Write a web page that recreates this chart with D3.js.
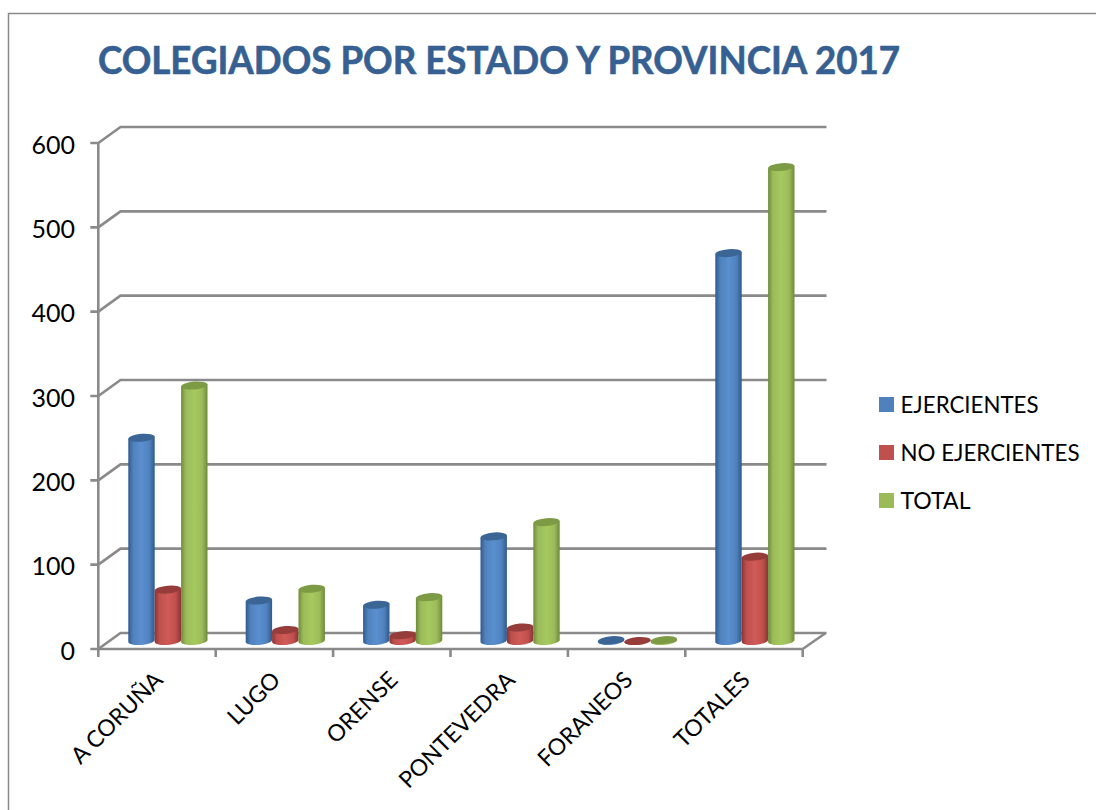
<!DOCTYPE html>
<html><head><meta charset="utf-8">
<style>html,body{margin:0;padding:0;background:#fff;overflow:hidden}svg{display:block}text{font-family:Lato,"Open Sans",sans-serif}</style>
<script src="https://cdn.jsdelivr.net/npm/d3@7"></script></head>
<body><svg id="c" width="1096" height="810"></svg>
<script>
const categories = ["A CORUÑA","LUGO","ORENSE","PONTEVEDRA","FORANEOS","TOTALES"];
const seriesNames = ["EJERCIENTES","NO EJERCIENTES","TOTAL"];
const ejercientes = [241,48,43,124,1,460];
const noEjercientes = [61,13,7,16,0,100];
const total = [303,62,52,141,1,562];
const yTicks = [0,100,200,300,400,500,600];
const titleText = "COLEGIADOS POR ESTADO Y PROVINCIA 2017";

const seriesValues = [ejercientes,noEjercientes,total];
const palette = [
  {main:"#4f81bd",light:"#5a8fd0",dark:"#2f5a8c",top:"#3a6595"},
  {main:"#c0504d",light:"#d05a57",dark:"#8a3432",top:"#963d3b"},
  {main:"#9bbb59",light:"#a6c95f",dark:"#6f8a3a",top:"#7d9a45"}
];
const axisColor="#8a8a8a", depthX=23, depthY=16;
const svg=d3.select("#c");
const x=d3.scaleBand().domain(categories).range([98.3,802.7]);
const y=d3.scaleLinear().domain([0,600]).range([649,143]);
const inner=d3.scaleBand().domain(d3.range(3)).range([30,109.2]);

const defs=svg.append("defs");
palette.forEach((p,i)=>{
  const g=defs.append("linearGradient").attr("id","g"+i);
  [[0,p.dark],[.18,p.main],[.5,p.light],[.8,p.main],[1,p.dark]].forEach(s=>g.append("stop").attr("offset",s[0]).attr("stop-color",s[1]));
});

// frame
svg.append("path").attr("d","M8.5,812V13.5H1098").attr("fill","none").attr("stroke",axisColor).attr("stroke-width",1.5);

// title
svg.append("text").attr("x",98).attr("y",74).attr("font-size",38).attr("font-weight",700).attr("fill","#376092").attr("stroke","#376092").attr("stroke-width",0.6).attr("textLength",802).attr("lengthAdjust","spacingAndGlyphs").text(titleText);

// grid walls
const line=(a,b,c,d,w)=>svg.append("line").attr("x1",a).attr("y1",b).attr("x2",c).attr("y2",d).attr("stroke",axisColor).attr("stroke-width",w||2.6);
const x0=x.range()[0], x1=x.range()[1];
yTicks.forEach(t=>{
  const yy=y(t);
  svg.append("path").attr("d",`M${x0-8},${yy}H${x0}L${x0+depthX-.8},${yy-depthY}H${x1+depthX+.8}`).attr("fill","none").attr("stroke",axisColor).attr("stroke-width",2.6);
  svg.append("text").attr("x",75).attr("y",yy+10.5).attr("text-anchor","end").attr("font-size",25).attr("fill","#000").text(t);
});
line(x0,y(600),x0,y(0)+8);
line(x0,y(0),x1,y(0));
line(x1,y(0),x1+depthX,y(0)-depthY);
categories.forEach(c=>line(x(c)+x.bandwidth(),y(0),x(c)+x.bandwidth(),y(0)+8));

// cylinders
const tilt=1.1, baseOffset=8, ry=4;
seriesValues.forEach((vals,s)=>{
  const w=inner.bandwidth(), rx=w/2+0.05;
  const g=svg.append("g");
  g.selectAll("path.body").data(vals).join("path").attr("class","body")
    .attr("fill",`url(#g${s})`)
    .attr("d",(v,i)=>{
      const l=x(categories[i])+inner(s), r=l+w;
      const b=y(0)-baseOffset, t=y(v)-baseOffset;
      return `M${l},${t+tilt}L${l},${b+tilt}A${rx},${ry} -5 0 0 ${r},${b-tilt}L${r},${t-tilt}Z`;
    });
  g.selectAll("path.cap").data(vals).join("path").attr("class","cap")
    .attr("fill",palette[s].top)
    .attr("d",(v,i)=>{
      const l=x(categories[i])+inner(s), r=l+w, t=y(v)-baseOffset;
      return `M${l},${t+tilt}A${rx},${ry} -5 0 1 ${r},${t-tilt}A${rx},${ry} -5 0 1 ${l},${t+tilt}Z`;
    });
});

// category labels
categories.forEach(c=>{
  const px=x(c)+x.bandwidth()/2-4, py=670;
  svg.append("text").attr("transform",`translate(${px},${py}) rotate(-45)`).attr("text-anchor","end").attr("font-size",23).attr("fill","#000").attr("dy","0.7em").text(c);
});

// legend
seriesNames.forEach((n,i)=>{
  const ly=404.5+48*i;
  svg.append("rect").attr("x",879).attr("y",ly-7.5).attr("width",15).attr("height",15).attr("fill",palette[i].main);
  svg.append("text").attr("x",900.5).attr("y",ly+8).attr("font-size",22.5).attr("fill","#000").attr("textLength",n.length>11?179:n.length>5?138:70).attr("lengthAdjust","spacingAndGlyphs").text(n);
});
</script></body></html>
